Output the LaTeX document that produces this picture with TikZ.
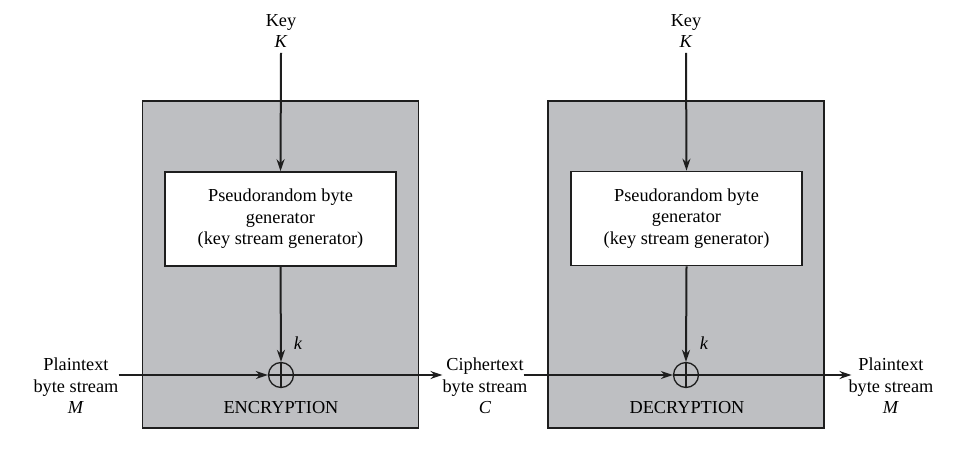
\documentclass[tikz,border=0pt]{standalone}
\usepackage{fontspec}
\setmainfont{Liberation Serif}
\usetikzlibrary{arrows.meta}
\definecolor{boxgray}{RGB}{190,191,194}
\definecolor{linecol}{RGB}{30,30,30}
\begin{document}
\begin{tikzpicture}[x=1pt,y=-1pt,
  every node/.style={font=\fontsize{18.3}{21.5}\selectfont, text=black},
  lbl/.style={align=center, inner sep=0pt},
  outer/.style={draw=linecol, line width=1.6pt, fill=boxgray, minimum width=276pt, minimum height=327pt, inner sep=0pt},
  gen/.style={draw=linecol, line width=1.6pt, fill=white, minimum width=231pt, minimum height=94pt, align=center, inner sep=0pt},
  xor/.style={circle, draw=linecol, line width=1.3pt, minimum size=25pt, inner sep=0pt,
    path picture={\draw[linecol, line width=1.1pt] (path picture bounding box.north) -- (path picture bounding box.south)
      (path picture bounding box.west) -- (path picture bounding box.east);}},
  arr/.style={draw=linecol, line width=2pt, -{Stealth[length=12pt,width=8pt]}},
  ln/.style={draw=linecol, line width=2pt}]
\useasboundingbox (0,0) rectangle (955,468);
\fill[white] (0,0) rectangle (955,468);

% boxes
\node[outer] (encbox) at (280.5,264.5) {};
\node[outer] (decbox) at (686,264.5) {};
\node[gen] (genL) at (280.5,219) {Pseudorandom byte\\generator\\(key stream generator)};
\node[gen] (genR) at (686.5,218.5) {Pseudorandom byte\\generator\\(key stream generator)};
\node[xor] (xorL) at (281,375) {};
\node[xor] (xorR) at (686,375) {};

% labels
\node[lbl] (keyL) at (281,31) {Key\\\textit{K}};
\node[lbl] (keyR) at (686,31) {Key\\\textit{K}};
\node[lbl] (ptL) at (76,386) {Plaintext\\byte stream\\\textit{M}};
\node[lbl] (ct) at (485,386) {Ciphertext\\byte stream\\\textit{C}};
\node[lbl] (ptR) at (891,386) {Plaintext\\byte stream\\\textit{M}};
\node[lbl] (encL) at (281,408) {ENCRYPTION};
\node[lbl] (decL) at (687,408) {DECRYPTION};
\node[lbl] (kL) at (298,343) {\textit{k}};
\node[lbl] (kR) at (704,343) {\textit{k}};

% connectors
\draw[arr] ([yshift=-5pt]keyL.south) -- (genL.north);
\draw[arr] ([yshift=-5pt]keyR.south) -- (genR.north);
\draw[arr] (genL.south) -- (xorL.north);
\draw[arr] (genR.south) -- (xorR.north);
\draw[arr] (ptL.east |- xorL.west) -- (xorL.west);
\draw[arr] (xorL.east) -- (xorL.east -| ct.west);
\draw[arr] ([xshift=-4pt]ct.east |- xorR.west) -- (xorR.west);
\draw[arr] (xorR.east) -- ([xshift=3pt]xorR.east -| ptR.west);
\end{tikzpicture}
\end{document}
